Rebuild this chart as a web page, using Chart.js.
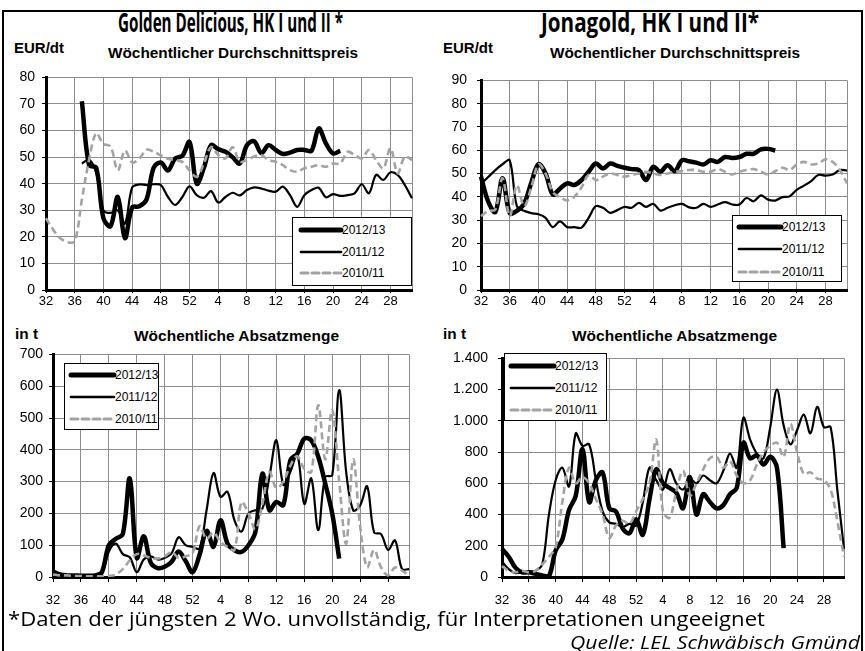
<!DOCTYPE html>
<html>
<head>
<meta charset="utf-8">
<script src="https://cdn.jsdelivr.net/npm/chart.js@4.4.1/dist/chart.umd.min.js"></script>
<style>
  body { margin: 0; background: #fff; }
  #page { position: relative; width: 865px; height: 651px; overflow: hidden; font-family: "Liberation Sans", Arial, sans-serif; color: #000; }
  #frame { position: absolute; left: 2px; top: 10px; width: 861px; height: 700px; border: 2px solid #000; box-sizing: border-box; }
  canvas { position: absolute; }
  .txt { position: absolute; white-space: nowrap; transform-origin: 0 50%; line-height: 1; }
  .title { font-family: "Open Sans", sans-serif; font-weight: 700; font-size: 26px; }
  .sub { font-weight: bold; font-size: 15px; }
  .foot { font-family: "Open Sans", sans-serif; font-size: 20px; }
  .quelle { font-family: "Open Sans", sans-serif; font-style: italic; font-size: 18px; }
  .legend { position: absolute; border: 1px solid #000; background: #fff; box-sizing: border-box; }
  .legend svg { position: absolute; left: 0; top: 0; }
  .legend span { position: absolute; font-size: 12px; line-height: 1; }
</style>
</head>
<body>
<div id="page">
  <div id="frame"></div>

  <div class="txt title" data-w="225" style="left:118px;top:9px">Golden Delicious, HK I und II *</div>
  <div class="txt title" data-w="218" style="left:541px;top:9px">Jonagold, HK I und II*</div>

  <div class="txt sub" data-w="50" style="left:14px;top:40px">EUR/dt</div>
  <div class="txt sub" data-w="250" style="left:108px;top:45px">Wöchentlicher Durchschnittspreis</div>
  <div class="txt sub" data-w="50" style="left:443px;top:40px">EUR/dt</div>
  <div class="txt sub" data-w="250" style="left:550px;top:45px">Wöchentlicher Durchschnittspreis</div>

  <div class="txt sub" data-w="23" style="left:15px;top:326px">in t</div>
  <div class="txt sub" data-w="205" style="left:134px;top:328px">Wöchentliche Absatzmenge</div>
  <div class="txt sub" data-w="23" style="left:443px;top:326px">in t</div>
  <div class="txt sub" data-w="205" style="left:572px;top:328px">Wöchentliche Absatzmenge</div>

  <canvas id="c1" width="420" height="252" style="left:0px;top:62px"></canvas>
  <canvas id="c2" width="420" height="252" style="left:435px;top:62px"></canvas>
  <canvas id="c3" width="420" height="278" style="left:0px;top:340px"></canvas>
  <canvas id="c4" width="415" height="278" style="left:440px;top:340px"></canvas>

  <div class="txt foot" data-w="757" style="left:8px;top:609px">*Daten der jüngsten 2 Wo. unvollständig, für Interpretationen ungeeignet</div>
  <div class="txt quelle" data-w="290" style="left:570px;top:633px">Quelle: LEL Schwäbisch Gmünd</div>
</div>

<script>
// Kalenderwochen Juli bis Juli
const weeks = [32, 33, 34, 35, 36, 37, 38, 39, 40, 41, 42, 43, 44, 45, 46, 47, 48, 49, 50, 51, 52,
  1, 2, 3, 4, 5, 6, 7, 8, 9, 10, 11, 12, 13, 14, 15, 16, 17, 18, 19, 20, 21, 22, 23, 24, 25, 26, 27, 28, 29, 30, 31];

const seasons = ['2012/13', '2011/12', '2010/11'];

// Golden Delicious, Preis EUR/dt
const goldenPrice1213 = [null, null, null, null, null, 71, 47, 46, 27, 24,
  35, 19.5, 31, 31.5, 34, 46, 48, 45, 49.5, 50.5,
  55.7, 40, 46, 54.5, 53, 52, 50, 47.6, 54.5, 56,
  51.5, 54.5, 52.7, 51.2, 51.7, 52.7, 52.7, 52.4, 60.8, 55.2,
  51.4, 52.4, null, null, null, null, null, null, null, null, null, null];
const goldenPrice1112 = [null, null, null, null, null, 47.6, 49, 44, 30, 29,
  30, 25, 38.5, 39.7, 39.5, 39.8, 39.5, 35, 32, 35,
  39, 35.7, 34.7, 37.2, 32.9, 35, 36.6, 35.6, 37.6, 38.6,
  38.2, 37.4, 37, 38.9, 35.7, 31.3, 35.7, 37.6, 38.5, 34.9,
  36.1, 35.4, 35.7, 36.4, 39.8, 36.4, 43.3, 41.4, 44.3, 43.3,
  39.5, 34.5];
const goldenPrice1011 = [27, 22.7, 19.5, 18, 18.3, 34, 49, 59, 55, 54,
  45, 52.5, 48, 49.4, 52.8, 52, 50.7, 49.4, 48.8, 48.2,
  45, 42.6, 47.6, 53.8, 50.8, 49.5, 53.7, 48.3, 48.9, 50.2,
  50.8, 48.9, 48.3, 47, 45.1, 44.5, 45.8, 46.4, 47, 46.4,
  47.6, 47.6, 52, 50.8, 49.5, 52.7, 48.9, 45.8, 53.3, 43.9,
  50.2, 48.9];

// Jonagold, Preis EUR/dt
const jonaPrice1213 = [48.7, 38, 33.5, 48, 33, 34, 37, 46, 54, 50,
  41, 43.5, 45.8, 45.1, 47.2, 50.8, 54.3, 52.2, 54.3, 53.3,
  52.5, 51.9, 51.5, 47.2, 52.9, 50.8, 53.6, 51, 55.7, 55.3,
  54.7, 53.9, 55.7, 55, 57.1, 56.7, 57.1, 58.5, 58.5, 60.4,
  60.6, 59.9, null, null, null, null, null, null, null, null, null, null];
const jonaPrice1112 = [45.5, 48.5, 51.5, 54, 55.7, 36, 34, 33, 32.5, 31,
  27, 29.5, 27, 27, 26.8, 31, 36, 35.3, 33.1, 34.3,
  35.7, 35.3, 37.4, 35.7, 37, 34.1, 35.3, 36.4, 37, 35.5,
  35.3, 37, 35.7, 36.7, 37.7, 36.7, 36.7, 39.5, 38.1, 40.6,
  38.8, 38.4, 39.9, 40.2, 43, 44.8, 46.8, 49.4, 49.1, 49.6,
  51.5, 51.3];
const jonaPrice1011 = [31.7, 33.9, 34.6, 48, 31.7, 45, 36, 44, 54, 50,
  42, 40, 38.5, 40, 44, 49.4, 47.2, 48.7, 50, 49.4,
  48.7, 49.4, 50, 50.8, 50, 49.4, 50, 50.8, 51, 51.5,
  51.5, 50.8, 50.8, 51.9, 50.8, 49.6, 50.8, 51.5, 51.9, 50.8,
  49.6, 51, 52.5, 51.5, 53.9, 55, 53.9, 54.3, 56.1, 55,
  51.5, 45.8];

// Golden Delicious, Absatz in t
const goldenQty1213 = [18, 8, 5, 5, 4, 4, 5, 15, 100, 120,
  135, 310, 60, 128, 45, 28, 32, 48, 80, 50,
  15, 70, 145, 95, 178, 105, 84, 79, 100, 142,
  325, 210, 236, 226, 367, 388, 435, 430, 378, 294,
  200, 58, null, null, null, null, null, null, null, null, null, null];
const goldenQty1112 = [10, 5, 3, 3, 3, 3, 5, 10, 80, 105,
  72, 62, 15, 55, 65, 55, 60, 75, 125, 100,
  95, 90, 210, 327, 252, 268, 178, 143, 200, 210,
  215, 315, 430, 290, 330, 385, 230, 310, 147, 315,
  320, 588, 330, 210, 225, 285, 140, 135, 85, 115,
  25, 25];
const goldenQty1011 = [8, 5, 5, 3, 3, 2, 2, 2, 3, 8,
  25, 52, 72, 68, 60, 58, 65, 78, 60, 65,
  75, 160, 120, 140, 110, 95, 85, 235, 200, 150,
  230, 330, 280, 300, 350, 380, 340, 330, 540, 370,
  525, 300, 105, 370, 160, 30, 85, 30, 5, 30,
  20, 5];

// Jonagold, Absatz in t
const jonaQty1213 = [180, 130, 60, 30, 30, 20, 10, 5, 170, 240,
  430, 520, 820, 480, 620, 670, 440, 420, 310, 280,
  370, 270, 500, 690, 600, 570, 540, 440, 640, 400,
  530, 480, 440, 460, 530, 570, 860, 760, 780, 720,
  770, 700, 185, null, null, null, null, null, null, null, null, null];
const jonaQty1112 = [100, 50, 25, 30, 35, 40, 80, 400, 620, 700,
  580, 920, 840, 850, 620, 420, 350, 340, 320, 340,
  330, 480, 700, 620, 560, 690, 600, 560, 630, 600,
  650, 620, 600, 680, 790, 700, 1020, 880, 790, 760,
  960, 1200, 970, 850, 940, 1040, 920, 1090, 960, 960,
  560, 180];
const jonaQty1011 = [70, 40, 30, 40, 30, 40, 80, 130, 190, 480,
  700, 600, 640, 600, 500, 400, 250, 330, 360, 340,
  420, 500, 600, 880, 420, 380, 550, 680, 520, 600,
  690, 760, 770, 700, 740, 650, 600, 620, 720, 800,
  840, 860, 770, 980, 800, 660, 670, 630, 620, 560,
  360, 130];

const gridColor = '#8c8c8c';
const lineStyles = [
  { color: '#000', width: 4.5, dash: [] },
  { color: '#000', width: 2.2, dash: [] },
  { color: '#a3a3a3', width: 2.6, dash: [7, 4] }
];

function dots(v) {
  return String(v).replace(/\B(?=(\d{3})+(?!\d))/g, '.');
}

function makeChart(id, series, o) {
  const datasets = series.map((data, i) => ({
    label: seasons[i],
    data: data,
    borderColor: lineStyles[i].color,
    borderWidth: lineStyles[i].width,
    borderDash: lineStyles[i].dash,
    order: 3 - i
  }));
  return new Chart(document.getElementById(id), {
    type: 'line',
    data: { labels: weeks, datasets: datasets },
    options: {
      responsive: false,
      animation: false,
      layout: { padding: { top: o.padTop, right: o.padRight, left: 0, bottom: 0 } },
      plugins: { legend: { display: false }, tooltip: { enabled: false } },
      elements: {
        point: { radius: 0 },
        line: { tension: 0.35, borderJoinStyle: 'round', fill: false }
      },
      scales: {
        x: {
          offset: false,
          grid: {
            color: c => (c.index % 4 === 0 || c.index === weeks.length - 1) ? gridColor : 'rgba(0,0,0,0)',
            tickLength: o.xTick,
            tickColor: c => c.index % 4 === 0 ? '#000' : 'rgba(0,0,0,0)'
          },
          border: { color: '#000', width: 3 },
          ticks: {
            autoSkip: false, maxRotation: 0, minRotation: 0, color: '#000',
            padding: o.xPad, font: o.xFont,
            callback: (v, i) => i % 4 === 0 ? weeks[i] : ''
          },
          afterFit: s => { s.height = o.xH; }
        },
        y: {
          min: 0, max: o.yMax,
          grid: { color: gridColor, tickLength: 4, tickColor: '#000' },
          border: { color: '#000', width: 3 },
          ticks: {
            stepSize: o.yStep, color: '#000', padding: o.yPad,
            font: { family: 'Liberation Sans, Arial, sans-serif', size: 14 },
            callback: v => dots(v)
          },
          afterFit: s => { s.width = o.yW; }
        }
      }
    }
  });
}

const topFont = { family: 'Liberation Sans, Arial, sans-serif', size: 13 };
const botFont = { family: 'Liberation Sans Narrow, Liberation Sans, Arial, sans-serif', size: 13 };

makeChart('c1', [goldenPrice1213, goldenPrice1112, goldenPrice1011],
  { padTop: 15, padRight: 8, yW: 46, xH: 24, yMax: 80, yStep: 10, yPad: 7, xTick: 3, xPad: 1, xFont: topFont });
makeChart('c2', [jonaPrice1213, jonaPrice1112, jonaPrice1011],
  { padTop: 15, padRight: 8, yW: 46, xH: 24, yMax: 90, yStep: 10, yPad: 10, xTick: 3, xPad: 1, xFont: topFont });
makeChart('c3', [goldenQty1213, goldenQty1112, goldenQty1011],
  { padTop: 14, padRight: 8, yW: 53, xH: 41, yMax: 700, yStep: 100, yPad: 6, xTick: 5, xPad: 11, xFont: botFont });
makeChart('c4', [jonaQty1213, jonaQty1112, jonaQty1011],
  { padTop: 13, padRight: 8, yW: 62, xH: 41, yMax: 1400, yStep: 200, yPad: 10, xTick: 5, xPad: 11, xFont: botFont });

// Legenden
const legends = [
  { left: 292, top: 217, w: 120, h: 69, rows: [12, 34, 55], x0: 8, x1: 48 },
  { left: 732, top: 215, w: 110, h: 67, rows: [11, 33, 56], x0: 6, x1: 48 },
  { left: 64, top: 363, w: 95, h: 67, rows: [11, 33, 55], x0: 6, x1: 49 },
  { left: 504, top: 353, w: 103, h: 68, rows: [12, 34, 56], x0: 6, x1: 49 }
];
const page = document.getElementById('page');
legends.forEach(L => {
  const box = document.createElement('div');
  box.className = 'legend';
  Object.assign(box.style, { left: L.left + 'px', top: L.top + 'px', width: L.w + 'px', height: L.h + 'px' });
  let svg = `<svg width="${L.w}" height="${L.h}">`;
  seasons.forEach((s, i) => {
    const st = lineStyles[i];
    svg += `<line x1="${L.x0}" y1="${L.rows[i]}" x2="${L.x1}" y2="${L.rows[i]}" stroke="${st.color}" stroke-width="${st.width + 0.5}"` +
      (st.dash.length ? ` stroke-dasharray="${st.dash.join(',')}"` : '') + ' stroke-linecap="round"/>';
  });
  svg += '</svg>';
  box.innerHTML = svg + seasons.map((s, i) =>
    `<span style="left:${L.x1 + 1}px;top:${L.rows[i] - 6}px">${s}</span>`).join('');
  page.appendChild(box);
});

// Textbreiten an die Vorlage anpassen
document.querySelectorAll('[data-w]').forEach(el => {
  const w = el.getBoundingClientRect().width;
  if (w > 0) el.style.transform = `scaleX(${el.dataset.w / w})`;
});
</script>
</body>
</html>
